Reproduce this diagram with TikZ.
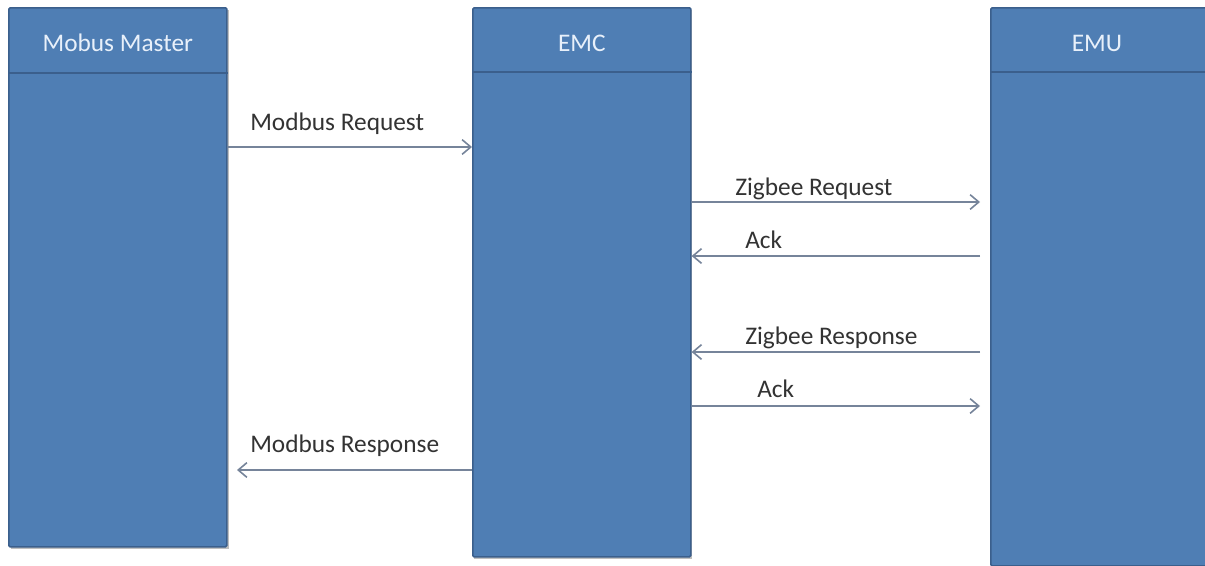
\documentclass[tikz,border=0pt]{standalone}
\usepackage{fontspec}
\setmainfont{Carlito}
\usetikzlibrary{arrows.meta,calc}
\definecolor{boxfill}{HTML}{4F7EB4}
\definecolor{boxline}{HTML}{3B5F8C}
\definecolor{arrowc}{HTML}{76849A}
\definecolor{headtext}{HTML}{E8F0FA}
\tikzset{
  px/.style={x=0.75pt,y=-0.75pt},
  lifebox/.style={draw=boxline,line width=1.2pt,fill=boxfill,rounded corners=1pt,anchor=north west,inner sep=0pt},
  headtxt/.style={text=headtext,font=\fontsize{19}{21}\selectfont,inner sep=0pt},
  msg/.style={draw=arrowc,line width=1.3pt,-{Straight Barb[length=6.5pt,width=11pt,line width=1.2pt]}},
  lbl/.style={anchor=base west,inner sep=0pt,text=black!80,font=\fontsize{19}{21}\selectfont}
}
\begin{document}
\begin{tikzpicture}[px]
\fill[white] (0,0) rectangle (1205,565);
\useasboundingbox (0,0) rectangle (1205,565);
\begin{scope}
\clip (0,0) rectangle (1205,565);
% shadows
\fill[black!25] (11,10) rectangle (229,549);
\fill[black!25] (474,10) rectangle (692,559);
\fill[black!25] (992,10) rectangle (1300,570);
% lifeline boxes
\node[lifebox,minimum width=163.5pt,minimum height=404.25pt] (mm) at (8,7) {};
\node[lifebox,minimum width=163.5pt,minimum height=411.75pt] (emc) at (472,7) {};
\node[lifebox,minimum width=240pt,minimum height=418.5pt] (emu) at (990,7) {};
\end{scope}
% header dividers
\draw[boxline,line width=1.4pt] ($(mm.north west)+(0,66)$) -- ($(mm.north east)+(0,66)$);
\draw[boxline,line width=1.4pt] ($(emc.north west)+(0,65)$) -- ($(emc.north east)+(0,65)$);
\draw[boxline,line width=1.4pt] ($(emu.north west)+(0,65)$) -- (1205,72);
% header texts
\node[headtxt] (mmt) at ($(mm.north)+(0,36)$) {Mobus Master};
\node[headtxt] (emct) at ($(emc.north)+(0,36)$) {EMC};
\node[headtxt] (emut) at (1097,43) {EMU};
% message levels
\coordinate (y1) at (0,147);
\coordinate (y2) at (0,202);
\coordinate (y3) at (0,256);
\coordinate (y4) at (0,352);
\coordinate (y5) at (0,406);
\coordinate (y6) at (0,470);
\coordinate (zr) at (980,0);
\coordinate (mr) at (237,0);
% messages
\draw[msg] (mm.east |- y1) -- (emc.west |- y1);
\node[lbl] (l1) at (250,130) {Modbus Request};
\draw[msg] (emc.east |- y2) -- (zr |- y2);
\node[lbl] (l2) at (735,195) {Zigbee Request};
\draw[msg] (zr |- y3) -- (emc.east |- y3);
\node[lbl] (l3) at (745,248) {Ack};
\draw[msg] (zr |- y4) -- (emc.east |- y4);
\node[lbl] (l4) at (745,344) {Zigbee Response};
\draw[msg] (emc.east |- y5) -- (zr |- y5);
\node[lbl] (l5) at (757,397) {Ack};
\draw[msg] (emc.west |- y6) -- (mr |- y6);
\node[lbl] (l6) at (250,452) {Modbus Response};
\end{tikzpicture}
\end{document}
